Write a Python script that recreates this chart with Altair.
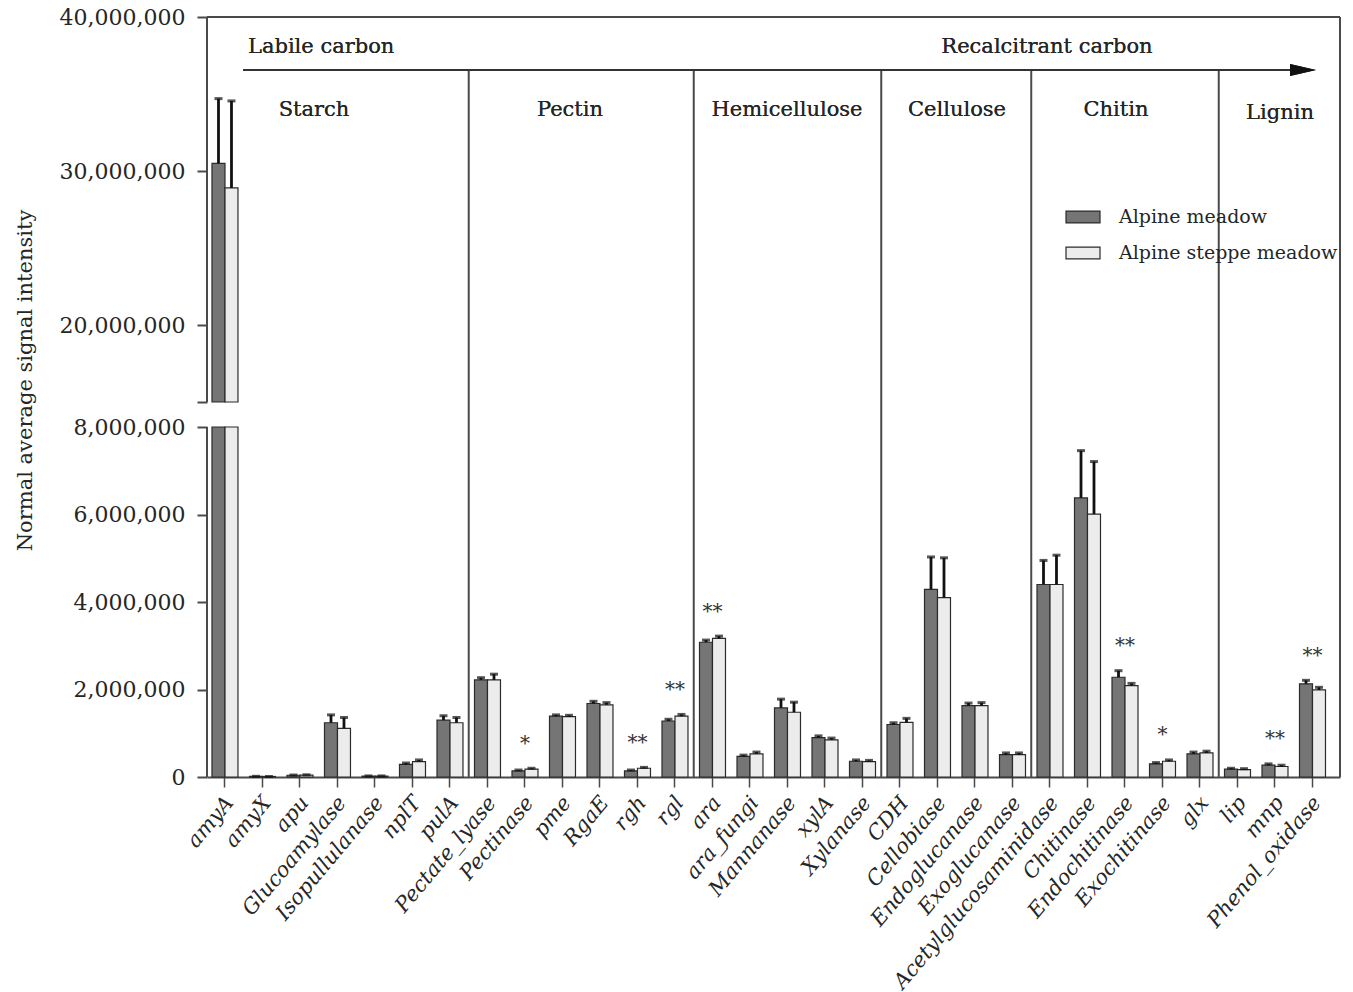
import altair as alt
import pandas as pd

# Carbon-degradation genes, in display order
genes = [
    "amyA", "amyX", "apu", "Glucoamylase", "Isopullulanase", "nplT", "pulA",
    "Pectate_lyase", "Pectinase", "pme", "RgaE", "rgh", "rgl",
    "ara", "ara_fungi", "Mannanase", "xylA", "Xylanase",
    "CDH", "Cellobiase", "Endoglucanase", "Exoglucanase",
    "Acetylglucosaminidase", "Chitinase", "Endochitinase", "Exochitinase", "glx",
    "lip", "mnp", "Phenol_oxidase",
]
series_names = ["Alpine meadow", "Alpine steppe meadow"]

# Mean normalised signal intensity and its error, per habitat
meadow = [30.5e6, 0.015e6, 0.04e6, 1.24e6, 0.02e6, 0.29e6, 1.30e6,
          2.22e6, 0.14e6, 1.39e6, 1.68e6, 0.14e6, 1.28e6,
          3.08e6, 0.47e6, 1.58e6, 0.90e6, 0.36e6,
          1.20e6, 4.29e6, 1.63e6, 0.51e6,
          4.40e6, 6.38e6, 2.28e6, 0.30e6, 0.53e6,
          0.18e6, 0.27e6, 2.13e6]
steppe = [28.9e6, 0.012e6, 0.045e6, 1.11e6, 0.02e6, 0.35e6, 1.24e6,
          2.22e6, 0.18e6, 1.38e6, 1.65e6, 0.20e6, 1.39e6,
          3.17e6, 0.53e6, 1.48e6, 0.85e6, 0.35e6,
          1.25e6, 4.10e6, 1.63e6, 0.51e6,
          4.40e6, 6.01e6, 2.09e6, 0.36e6, 0.55e6,
          0.17e6, 0.24e6, 1.99e6]
meadow_err = [4.2e6, 0.0, 0.005e6, 0.18e6, 0.005e6, 0.03e6, 0.10e6,
              0.05e6, 0.02e6, 0.03e6, 0.05e6, 0.02e6, 0.04e6,
              0.05e6, 0.03e6, 0.20e6, 0.04e6, 0.03e6,
              0.04e6, 0.74e6, 0.06e6, 0.04e6,
              0.55e6, 1.08e6, 0.15e6, 0.03e6, 0.04e6,
              0.02e6, 0.03e6, 0.08e6]
steppe_err = [5.65e6, 0.0, 0.005e6, 0.25e6, 0.005e6, 0.04e6, 0.12e6,
              0.13e6, 0.02e6, 0.03e6, 0.05e6, 0.02e6, 0.04e6,
              0.05e6, 0.04e6, 0.23e6, 0.04e6, 0.03e6,
              0.09e6, 0.91e6, 0.07e6, 0.04e6,
              0.67e6, 1.20e6, 0.05e6, 0.03e6, 0.04e6,
              0.02e6, 0.03e6, 0.06e6]

# Significance marks between habitats
sig_genes = ["Pectinase", "rgh", "rgl", "ara", "Endochitinase", "Exochitinase", "mnp", "Phenol_oxidase"]
sig_marks = ["*", "**", "**", "**", "**", "*", "**", "**"]

# Substrate groups and the last gene of each (for the dividing lines)
group_names = ["Starch", "Pectin", "Hemicellulose", "Cellulose", "Chitin", "Lignin"]
group_last = ["pulA", "rgl", "Xylanase", "Exoglucanase", "glx"]

# ---- layout constants ----
W, H = 1133, 760
LOW_TOP, HIGH_BASE, Y_MAX = 8e6, 15e6, 40e6
STEP = 37.5
FONT = "DejaVu Serif"
INK = "#262626"
LINE = "#4a4a4a"

# broken y axis: 0-8M in the lower part, 15M-40M in the upper part
yscale = alt.Scale(domain=[0, LOW_TOP, HIGH_BASE, Y_MAX], range=[H, H - 350, H - 375, 0], nice=False, zero=False)
xscale = alt.Scale(paddingInner=0.307, paddingOuter=0.26, align=0.256)

# bar segments, split at the axis break
bar_rows, err_rows = [], []
for i, g in enumerate(genes):
    for s, vals, errs in ((series_names[0], meadow, meadow_err), (series_names[1], steppe, steppe_err)):
        v, e = vals[i], errs[i]
        bar_rows.append({"gene": g, "series": s, "lo": 0.0, "hi": min(v, LOW_TOP)})
        if v > HIGH_BASE:
            bar_rows.append({"gene": g, "series": s, "lo": HIGH_BASE, "hi": v})
        err_rows.append({"gene": g, "series": s, "top": v, "cap": v + e})
bars_df = pd.DataFrame(bar_rows)
err_df = pd.DataFrame(err_rows)

sig_rows = []
for g, m in zip(sig_genes, sig_marks):
    i = genes.index(g)
    top = max(meadow[i] + meadow_err[i], steppe[i] + steppe_err[i])
    sig_rows.append({"gene": g, "mark": m, "pos": top + 0.7e6})
sig_df = pd.DataFrame(sig_rows)

sep_df = pd.DataFrame({"gene": group_last})
axis_seg_df = pd.DataFrame({"lo": [0.0, HIGH_BASE], "hi": [LOW_TOP, Y_MAX]})

x_axis = alt.Axis(
    labelAngle=310, labelAlign="right", labelBaseline="middle",
    labelFont=FONT, labelFontStyle="italic", labelFontSize=21, labelColor=INK,
    labelLimit=500, labelPadding=12, labelOffset=5,
    tickSize=10, tickColor=LINE, tickWidth=1.5,
    domainColor=LINE, domainWidth=2, labelOverlap=False,
)
y_axis = alt.Axis(
    values=[0, 2e6, 4e6, 6e6, 8e6, HIGH_BASE, 20e6, 30e6, 40e6],
    format=",.0f", labelExpr="datum.value == 15000000 ? '' : datum.label",
    domain=False, grid=False, labelFlush=False, labelOverlap=False,
    tickSize=10, tickColor=LINE, tickWidth=2,
    labelFont=FONT, labelFontSize=22, labelColor=INK, labelPadding=12,
    titleFont=FONT, titleFontSize=21, titleFontWeight="normal", titleColor=INK,
    titleX=-182, titleY=363, titleAlign="center", titleBaseline="middle",
)

x_enc = alt.X("gene:N", sort=genes, scale=xscale, title=None, axis=x_axis)
x_plain = alt.X("gene:N", sort=genes, scale=xscale, title=None, bandPosition=0.5)
xoff = alt.XOffset("series:N", sort=series_names, scale=alt.Scale(paddingInner=0, paddingOuter=0))


def y_of(field):
    return alt.Y(field, scale=yscale, title="Normal average signal intensity")


bars = alt.Chart(bars_df).mark_bar(stroke="#2b2b2b", strokeWidth=1.2).encode(
    x=x_enc,
    xOffset=xoff,
    y=alt.Y("hi:Q", scale=yscale, axis=y_axis, title="Normal average signal intensity"),
    y2="lo:Q",
    fill=alt.Fill(
        "series:N",
        scale=alt.Scale(domain=series_names, range=["#757575", "#ececec"]),
        legend=alt.Legend(
            title=None, orient="none", legendX=858, legendY=182,
            symbolType="M-1,-0.35L1,-0.35L1,0.35L-1,0.35Z", symbolSize=1156,
            symbolStrokeColor="#2b2b2b", symbolStrokeWidth=1.2, symbolOpacity=1,
            labelFont=FONT, labelFontSize=19, labelColor=INK, labelOffset=18,
            labelLimit=400, rowPadding=8,
        ),
    ),
)

err_line = alt.Chart(err_df).mark_rule(color="#111111", strokeWidth=2.8).encode(
    x=x_plain, xOffset=xoff, y=y_of("top:Q"), y2="cap:Q",
)
err_cap = alt.Chart(err_df).mark_tick(color="#111111", thickness=3, size=8, orient="horizontal").encode(
    x=x_plain, xOffset=xoff, y=y_of("cap:Q"),
)

stars = alt.Chart(sig_df).mark_text(font=FONT, fontSize=20, color="#333333", baseline="middle", dy=6).encode(
    x=x_plain, y=y_of("pos:Q"), text="mark:N",
)

separators = alt.Chart(sep_df).mark_rule(color=LINE, strokeWidth=2, xOffset=STEP / 2).encode(
    x=x_plain, y=alt.value(53), y2=alt.value(H),
)

y_axis_line = alt.Chart(axis_seg_df).mark_rule(color=LINE, strokeWidth=2).encode(
    x=alt.value(0), y=y_of("lo:Q"), y2="hi:Q",
)

frame_top = alt.Chart(axis_seg_df).mark_rule(color=LINE, strokeWidth=2).encode(
    x=alt.value(0), x2=alt.value(W), y=alt.value(0),
)
frame_right = alt.Chart(axis_seg_df).mark_rule(color=LINE, strokeWidth=2).encode(
    x=alt.value(W), y=alt.value(0), y2=alt.value(H),
)

# carbon lability arrow
arrow_line = alt.Chart(axis_seg_df).mark_rule(color="#333333", strokeWidth=2).encode(
    x=alt.value(36), x2=alt.value(1085), y=alt.value(53),
)
arrow_head = alt.Chart(axis_seg_df).mark_point(
    shape="M-1,-0.46L1,0L-1,0.46Z", size=676, filled=True, color="#111111", opacity=1,
).encode(x=alt.value(1096), y=alt.value(53))

labile = alt.Chart(axis_seg_df).mark_text(
    text="Labile carbon", font=FONT, fontSize=21, color=INK, align="left", baseline="middle",
).encode(x=alt.value(41), y=alt.value(30))
recalcitrant = alt.Chart(axis_seg_df).mark_text(
    text="Recalcitrant carbon", font=FONT, fontSize=21, color=INK, align="center", baseline="middle",
).encode(x=alt.value(840), y=alt.value(30))

group_x = [107, 363, 580, 750, 909, 1073]
group_y = [93, 93, 93, 93, 93, 96]
group_labels = [
    alt.Chart(axis_seg_df).mark_text(
        text=name, font=FONT, fontSize=21, color=INK, align="center", baseline="middle",
    ).encode(x=alt.value(gx), y=alt.value(gy))
    for name, gx, gy in zip(group_names, group_x, group_y)
]

chart = alt.layer(
    bars, separators, err_line, err_cap, stars, y_axis_line, frame_top, frame_right,
    arrow_line, arrow_head, labile, recalcitrant, *group_labels,
).properties(
    width=W, height=H,
    autosize=alt.AutoSizeParams(type="none"),
    padding={"left": 207, "top": 17, "right": 13, "bottom": 215},
    background="white",
).configure_view(stroke=None)

chart.save("out.html", embed_options={"renderer": "svg", "actions": False})
